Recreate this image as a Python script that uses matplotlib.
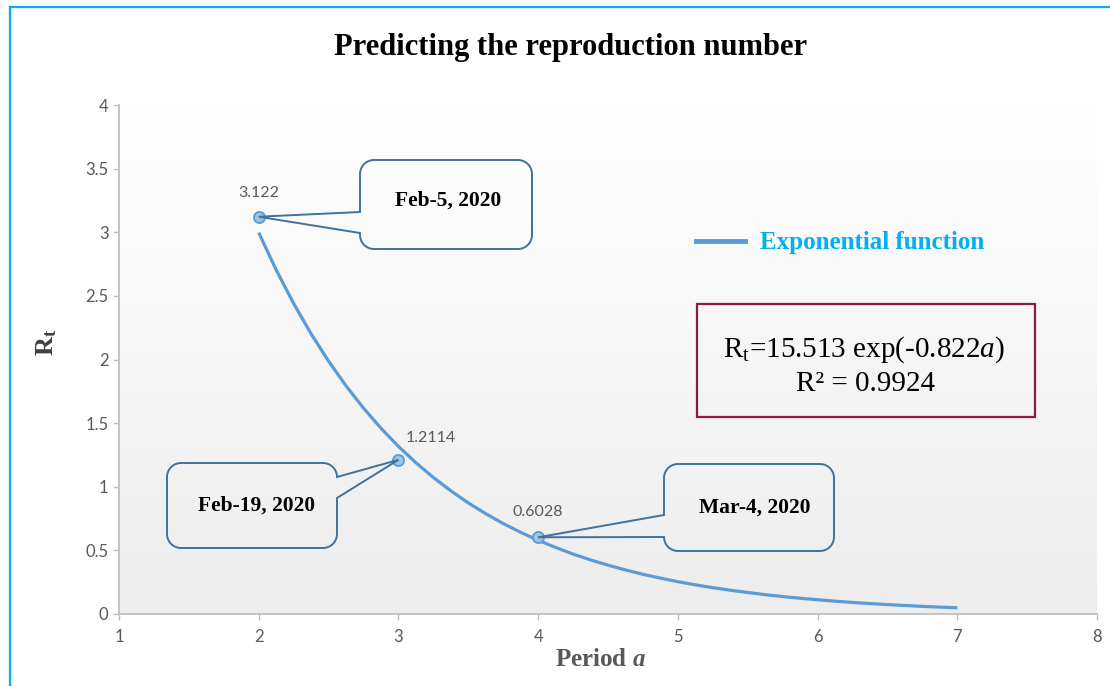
import numpy as np
import matplotlib
matplotlib.use("Agg")
import matplotlib.pyplot as plt
from matplotlib.colors import LinearSegmentedColormap
from matplotlib.lines import Line2D
from matplotlib.patches import Polygon, Rectangle

plt.rcParams['mathtext.fontset'] = 'custom'
plt.rcParams['mathtext.rm'] = 'Liberation Serif'
plt.rcParams['mathtext.it'] = 'Liberation Serif:italic'
plt.rcParams['mathtext.bf'] = 'Liberation Serif:bold'
plt.rcParams['mathtext.bfit'] = 'Liberation Serif:italic:bold'

# ---------------- data ----------------
curve_a = [2.0, 2.125, 2.25, 2.375, 2.5, 2.625, 2.75, 2.875, 3.0, 3.125, 3.25,
           3.375, 3.5, 3.625, 3.75, 3.875, 4.0, 4.125, 4.25, 4.375, 4.5,
           4.625, 4.75, 4.875, 5.0, 5.125, 5.25, 5.375, 5.5, 5.625, 5.75,
           5.875, 6.0, 6.125, 6.25, 6.375, 6.5, 6.625, 6.75, 6.875, 7.0]
curve_rt = [2.997, 2.704, 2.440, 2.202, 1.987, 1.793, 1.618, 1.460, 1.317,
            1.189, 1.073, 0.968, 0.873, 0.788, 0.711, 0.642, 0.579, 0.523,
            0.471, 0.425, 0.384, 0.346, 0.312, 0.282, 0.254, 0.229, 0.207,
            0.187, 0.169, 0.152, 0.137, 0.124, 0.112, 0.101, 0.091, 0.082,
            0.074, 0.067, 0.060, 0.054, 0.049]
point_a = [2, 3, 4]
point_rt = [3.122, 1.2114, 0.6028]
point_labels = ['3.122', '1.2114', '0.6028']
point_dates = ['Feb-5, 2020', 'Feb-19, 2020', 'Mar-4, 2020']
x_ticks = [1, 2, 3, 4, 5, 6, 7, 8]
y_ticks = [0, 0.5, 1, 1.5, 2, 2.5, 3, 3.5, 4]
y_tick_labels = ['0', '0.5', '1', '1.5', '2', '2.5', '3', '3.5', '4']
title = 'Predicting the reproduction number'
legend_label = 'Exponential function'
equation_lines = ['R$_{\\mathrm{t}}$=15.513 exp(-0.822$\\mathit{a}$)', 'R\u00b2 = 0.9924']

# ---------------- layout ----------------
W, H = 1110, 686
fig = plt.figure(figsize=(W / 100, H / 100), dpi=100)
fig.patch.set_facecolor('white')

def fx(x):
    return x / W

def fy(y):
    return 1 - y / H

ax = fig.add_axes([fx(119), fy(614), (1097 - 119) / W, (614 - 105) / H])
ax.set_facecolor('none')
grad = np.linspace(0, 1, 256).reshape(-1, 1)
cmap = LinearSegmentedColormap.from_list('g', ['#FFFFFF', '#EDEDED'])
ax.imshow(grad, cmap=cmap, extent=[1, 8, 0, 4], aspect='auto', origin='upper', zorder=0)
ax.set_xlim(1, 8)
ax.set_ylim(0, 4)

line_color = '#5B9BD5'
ax.plot(curve_a, curve_rt, color=line_color, lw=2.3, zorder=3, solid_capstyle='butt',
        solid_joinstyle='round')
ax.plot(point_a, point_rt, linestyle='none', marker='o', markersize=8,
        markerfacecolor='#9DC3E6', markeredgecolor=line_color, markeredgewidth=1.3, zorder=4)

label_offsets = [(0, 17), (23, 16), (0, 18)]
for a, r, lab, off in zip(point_a, point_rt, point_labels, label_offsets):
    ax.annotate(lab, (a, r), xytext=off, textcoords='offset points', ha='center', va='center',
                fontsize=11.5, color='#595959', family='Lato', zorder=5)

for s in ['top', 'right']:
    ax.spines[s].set_visible(False)
for s in ['left', 'bottom']:
    ax.spines[s].set_color('#BFBFBF')
    ax.spines[s].set_linewidth(1.3)
ax.set_xticks(x_ticks)
ax.set_yticks(y_ticks)
ax.set_yticklabels(y_tick_labels)
ax.tick_params(axis='both', colors='#BFBFBF', length=4.5, width=1.0, labelcolor='#595959', labelsize=12)
ax.tick_params(axis='x', pad=6)
ax.tick_params(axis='y', pad=3)
for t in ax.get_xticklabels() + ax.get_yticklabels():
    t.set_family('Lato')

# outer frame (left and top edges)
frame_col = '#00B0F0'
fig.add_artist(Line2D([fx(10), fx(10)], [fy(7), fy(H + 5)], color=frame_col, lw=1.6, transform=fig.transFigure))
fig.add_artist(Line2D([fx(10), fx(W + 5)], [fy(7), fy(7)], color=frame_col, lw=1.6, transform=fig.transFigure))

# title and axis labels
fig.text(fx(571), fy(48), title, ha='center', va='center', family='Liberation Serif',
         weight='bold', fontsize=22, color='black')
fig.text(fx(47), fy(342), 'R$_{\\mathbf{t}}$', rotation=90, ha='center', va='center',
         family='Liberation Serif', weight='bold', fontsize=19, color='#404040')
fig.text(fx(600), fy(660), 'Period $\\mathbfit{a}$', ha='center', va='center',
         family='Liberation Serif', weight='bold', fontsize=18, color='#595959')

# legend
ax.legend(handles=[Line2D([], [], color=line_color, lw=3.5)], labels=[legend_label],
          loc='center left', bbox_to_anchor=(fx(696), fy(243)), bbox_transform=fig.transFigure,
          frameon=False, prop=dict(family='Liberation Serif', weight='bold', size=18),
          labelcolor='#00B0F0', handlelength=1.95, handletextpad=0.6, borderpad=0, borderaxespad=0)

# equation box
fig.add_artist(Rectangle((fx(697), fy(417)), (1035 - 697) / W, (417 - 304) / H, fill=False,
                         edgecolor='#8E1B3A', lw=1.6, transform=fig.transFigure))
fig.text(fx(864), fy(350), equation_lines[0], ha='center', va='center', family='Liberation Serif',
         fontsize=21, color='black')
fig.text(fx(866), fy(384), equation_lines[1], ha='center', va='center', family='Liberation Serif',
         fontsize=21, color='black')

# callouts
def callout(x0, y0, x1, y1, side, b1, b2, target, r=14):
    disp = ax.transData.transform(target)
    px, py = disp[0], H - disp[1]
    pts = [(x0 + r, y0)]

    def arc(cx, cy, t0, t1):
        for t in np.linspace(np.radians(t0), np.radians(t1), 12):
            pts.append((cx + r * np.cos(t), cy + r * np.sin(t)))

    arc(x1 - r, y0 + r, -90, 0)
    if side == 'right':
        pts.extend([(x1, b1), (px, py), (x1, b2)])
    arc(x1 - r, y1 - r, 0, 90)
    arc(x0 + r, y1 - r, 90, 180)
    if side == 'left':
        pts.extend([(x0, b2), (px, py), (x0, b1)])
    arc(x0 + r, y0 + r, 180, 270)
    verts = [(fx(x), fy(y)) for x, y in pts]
    fig.add_artist(Polygon(verts, closed=True, fill=False, edgecolor='#41719C', lw=1.4,
                           transform=fig.transFigure, joinstyle='miter'))

callout_boxes = [(360, 160, 532, 249, 'left', 212, 233, (448, 201)),
                 (167, 463, 337, 548, 'right', 477, 498, (257, 506)),
                 (664, 464, 834, 551, 'left', 515, 537, (755, 508))]
for (x0, y0, x1, y1, side, b1, b2, tpos), a, r, d in zip(callout_boxes, point_a, point_rt, point_dates):
    callout(x0, y0, x1, y1, side, b1, b2, (a, r))
    fig.text(fx(tpos[0]), fy(tpos[1]), d, ha='center', va='center', family='Liberation Serif',
             weight='bold', fontsize=15.5, color='black')

fig.savefig('out.png', dpi=100)
